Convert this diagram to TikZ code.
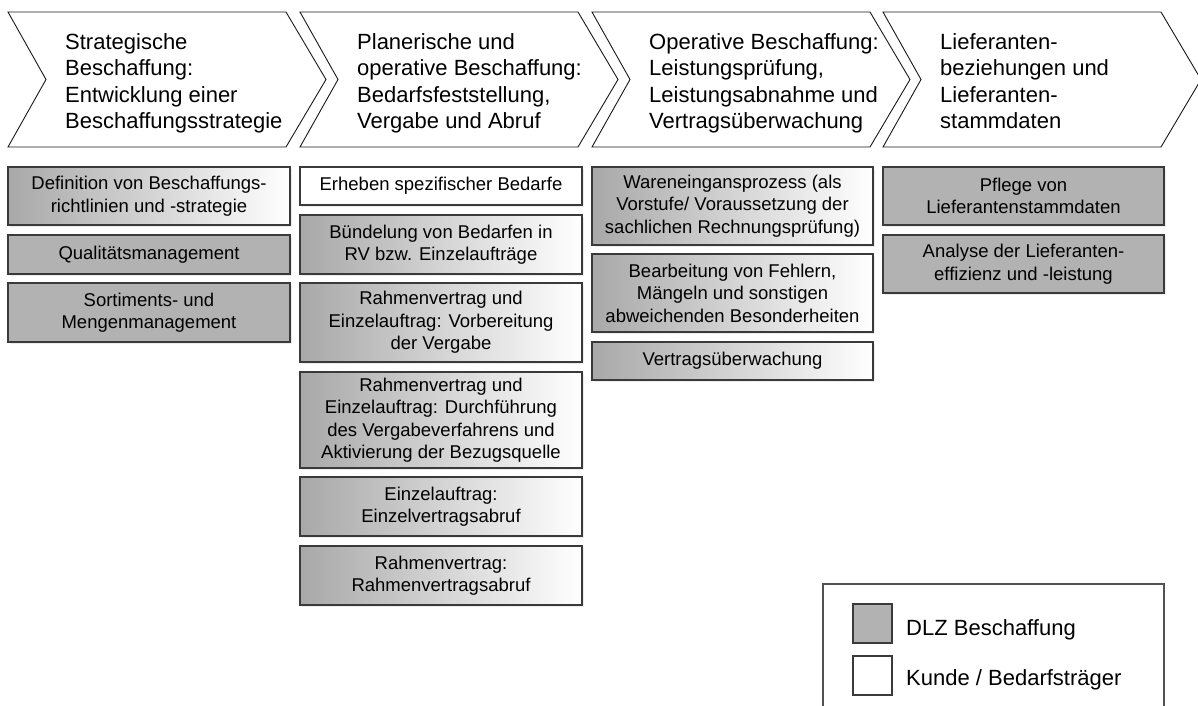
\documentclass[tikz,border=0pt]{standalone}
\usepackage{fontspec}
\setmainfont{Liberation Sans}
\usetikzlibrary{shadows}
\definecolor{boxgray}{HTML}{B2B2B2}
\definecolor{gradgray}{HTML}{A8A8A8}
\definecolor{edgecol}{HTML}{3A3A3A}
\tikzset{
  chev/.style={draw=black!90, line width=0.9pt, fill=white},
  chevtext/.style={anchor=north west, align=left, inner sep=0pt, font=\fontsize{22}{26.6}\selectfont},
  boxbase/.style={draw=edgecol, line width=1.3pt, rectangle, inner sep=0pt, align=center,
    font=\fontsize{18.5}{22.5}\selectfont, text=black,
    drop shadow={opacity=0.15, shadow xshift=1.5pt, shadow yshift=-1.5pt}},
  gbox/.style={boxbase, left color=gradgray, right color=white},
  sbox/.style={boxbase, fill=boxgray},
  wbox/.style={boxbase, fill=white},
  legsq/.style={draw=edgecol, line width=1.1pt, minimum width=39pt, minimum height=39pt, inner sep=0pt},
  legtext/.style={anchor=base west, inner sep=0pt, font=\fontsize{22}{26}\selectfont},
}
\begin{document}
\begin{tikzpicture}[x=1pt, y=-1pt]
\path[use as bounding box] (0,0) rectangle (1198,705);

% chevrons
\foreach \L in {8,300,592,883}{
  \draw[chev] (\L,12) -- (\L+278,12) -- (\L+318,79.5) -- (\L+278,147) -- (\L,147) -- (\L+38,79.5) -- cycle;
}
\node[chevtext] (h1) at (65,33) {Strategische\\Beschaffung:\\Entwicklung einer\\Beschaffungsstrategie};
\node[chevtext] (h2) at (357,33) {Planerische und\\operative Beschaffung:\\Bedarfsfeststellung,\\Vergabe und Abruf};
\node[chevtext] (h3) at (649,33) {Operative Beschaffung:\\Leistungsprüfung,\\Leistungsabnahme und\\Vertragsüberwachung};
\node[chevtext] (h4) at (940,33) {Lieferanten-\\beziehungen und\\Lieferanten-\\stammdaten};

% column 1
\node[gbox, minimum width=282pt, minimum height=58pt] (d1) at (149,196) {Definition von Beschaffungs-\\richtlinien und -strategie};
\node[sbox, minimum width=282pt, minimum height=39pt] (d2) at (149,254.5) {Qualitätsmanagement};
\node[sbox, minimum width=282pt, minimum height=59pt] (d3) at (149,312.5) {Sortiments- und\\Mengenmanagement};

% column 2
\node[wbox, minimum width=282pt, minimum height=38pt] (e1) at (441,186) {Erheben spezifischer Bedarfe};
\node[gbox, minimum width=282pt, minimum height=59pt] (e2) at (441,244.5) {Bündelung von Bedarfen in\\RV bzw. Einzelaufträge};
\node[gbox, minimum width=282pt, minimum height=79pt] (e3) at (441,322.5) {Rahmenvertrag und\\Einzelauftrag: Vorbereitung\\der Vergabe};
\node[gbox, minimum width=282pt, minimum height=96pt] (e4) at (441,420) {Rahmenvertrag und\\Einzelauftrag: Durchführung\\des Vergabeverfahrens und\\Aktivierung der Bezugsquelle};
\node[gbox, minimum width=282pt, minimum height=59pt] (e5) at (441,506.5) {Einzelauftrag:\\Einzelvertragsabruf};
\node[gbox, minimum width=282pt, minimum height=59pt] (e6) at (441,575.5) {Rahmenvertrag:\\Rahmenvertragsabruf};

% column 3
\node[gbox, minimum width=281pt, minimum height=78pt] (f1) at (732.5,206) {Wareneingansprozess (als\\Vorstufe/ Voraussetzung der\\sachlichen Rechnungsprüfung)};
\node[gbox, minimum width=281pt, minimum height=78pt] (f2) at (732.5,293) {Bearbeitung von Fehlern,\\Mängeln und sonstigen\\abweichenden Besonderheiten};
\node[gbox, minimum width=281pt, minimum height=38pt] (f3) at (732.5,361) {Vertragsüberwachung};

% column 4
\node[sbox, minimum width=281pt, minimum height=58pt] (g1) at (1023.5,196) {Pflege von\\Lieferantenstammdaten};
\node[sbox, minimum width=281pt, minimum height=58pt] (g2) at (1023.5,264) {Analyse der Lieferanten-\\effizienz und -leistung};

% legend
\coordinate (lgA) at (823,706);
\coordinate (lgB) at (823,584);
\coordinate (lgC) at (1164,584);
\coordinate (lgD) at (1164,706);
\draw[draw=black!68, line width=1.3pt] (lgA) -- (lgB) -- (lgC) -- (lgD);
\node[legsq, fill=boxgray] (sq1) at (872.5,623.5) {};
\node[legsq, fill=white] (sq2) at (872.5,675.5) {};
\node[legtext] (lt1) at (906,635) {DLZ Beschaffung};
\node[legtext] (lt2) at (906,685) {Kunde / Bedarfsträger};
\end{tikzpicture}
\end{document}
